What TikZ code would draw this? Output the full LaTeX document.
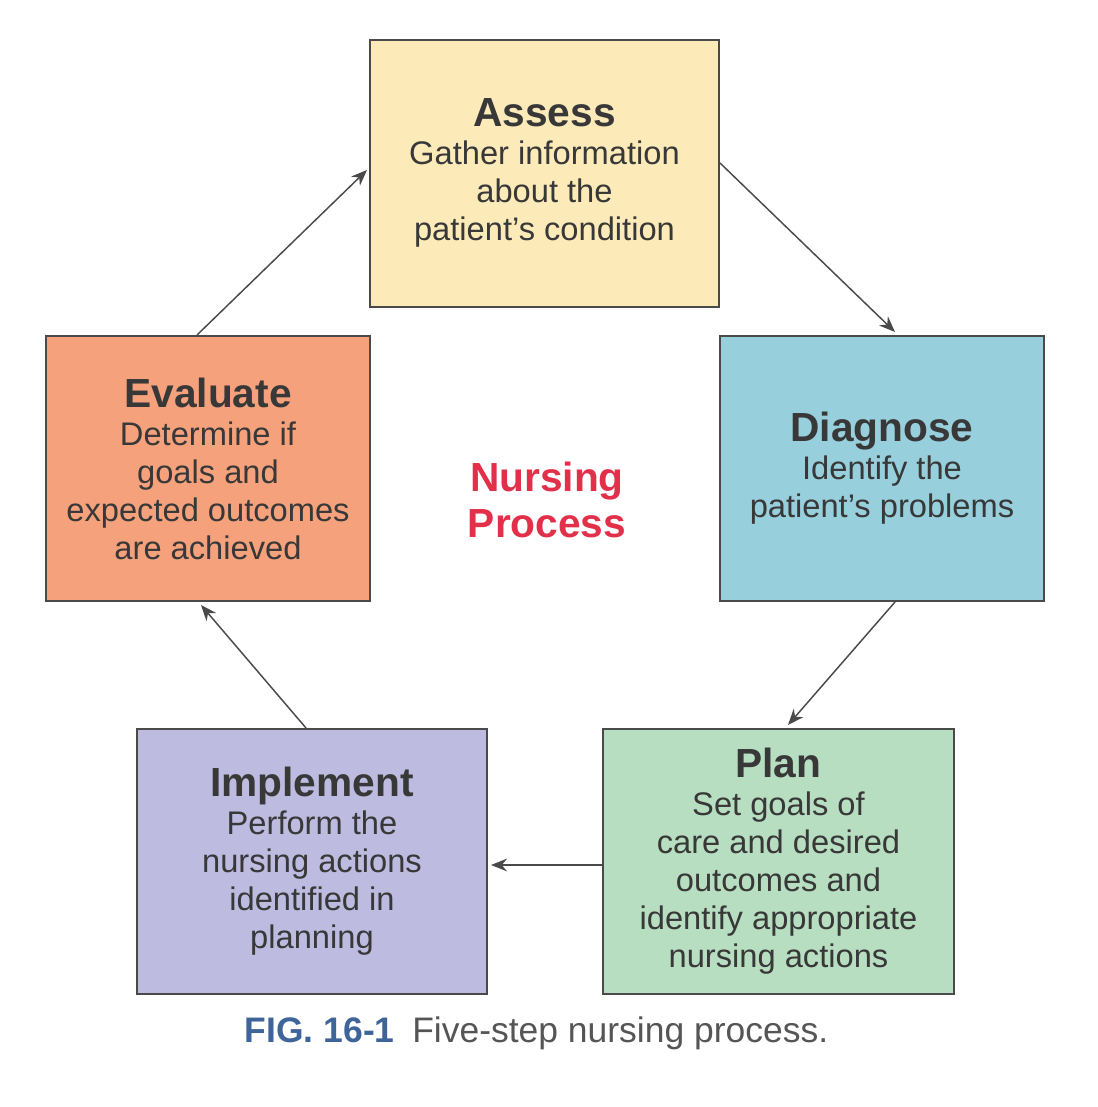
\documentclass[tikz,border=0pt]{standalone}
\usepackage{fontspec}
\setmainfont{Liberation Sans}
\usepackage{tikz}
\usetikzlibrary{arrows.meta,calc}

\definecolor{assessfill}{HTML}{FCEBB9}
\definecolor{diagnosefill}{HTML}{97CFDD}
\definecolor{planfill}{HTML}{B8DEC1}
\definecolor{implementfill}{HTML}{BDBBDF}
\definecolor{evaluatefill}{HTML}{F5A17C}
\definecolor{boxtext}{HTML}{383838}
\definecolor{edge}{HTML}{4A4A4A}
\definecolor{nursered}{HTML}{E2304A}
\definecolor{figblue}{HTML}{3E6499}
\definecolor{capgray}{HTML}{555555}

\tikzset{
  stepbox/.style={draw=edge, line width=1.5pt, text=boxtext, align=center,
    inner sep=0pt, font=\fontsize{24.5}{28.5}\selectfont},
  cyc/.style={draw=edge, line width=1.1pt, -{Stealth[length=12pt,width=9.5pt]}},
}
\newcommand{\steptitle}[1]{{\fontsize{30.5}{28.5}\selectfont\bfseries #1}}

\begin{document}
\begin{tikzpicture}[x=0.75pt,y=0.75pt,yscale=-1,xscale=1]
%set diagram left start at 0, and has height of 1107
\path (0,0) rectangle (1097,1107);

%Shape: Rectangle [assess]
\node[stepbox, fill=assessfill, minimum width=261.75pt, minimum height=200.25pt] (assess) at (544.5,173)
  {\steptitle{Assess}\\Gather information\\about the\\patient's condition};
%Shape: Rectangle [diagnose]
\node[stepbox, fill=diagnosefill, minimum width=243pt, minimum height=198.75pt] (diagnose) at (882,468.5)
  {\steptitle{Diagnose}\\Identify the\\patient's problems};
%Shape: Rectangle [plan]
\node[stepbox, fill=planfill, minimum width=263.25pt, minimum height=198.75pt] (plan) at (778.5,861.5)
  {\steptitle{Plan}\\Set goals of\\care and desired\\outcomes and\\identify appropriate\\nursing actions};
%Shape: Rectangle [implement]
\node[stepbox, fill=implementfill, minimum width=262.5pt, minimum height=198.75pt] (implement) at (312,861.5)
  {\steptitle{Implement}\\Perform the\\nursing actions\\identified in\\planning};
%Shape: Rectangle [evaluate]
\node[stepbox, fill=evaluatefill, minimum width=243pt, minimum height=198.75pt] (evaluate) at (208,468.5)
  {\steptitle{Evaluate}\\Determine if\\goals and\\expected outcomes\\are achieved};

% Text Node
\node[text=nursered, align=center, font=\fontsize{30.5}{35}\selectfont\bfseries] (centre) at (547,500)
  {Nursing\\Process};

%Straight Lines [cycle]
\draw[cyc] ($(assess.east)+(0,-10)$) -- ($(diagnose.north)+(13,-3)$);
\draw[cyc] ($(diagnose.south)+(13,0)$) -- ($(plan.north)+(9.5,-3)$);
\draw[cyc] ($(plan.west)+(0,3.5)$) -- ($(implement.east)+(3,3.5)$);
\draw[cyc] ($(implement.north)+(-6,0)$) -- ($(evaluate.south)+(-7,3)$);
\draw[cyc] ($(evaluate.north)+(-11,0)$) -- ($(assess.west)+(-2,-3)$);

% Text Node
\node[anchor=base, font=\fontsize{26.6}{30}\selectfont] (caption) at (536.5,1042)
  {{\color{figblue}\bfseries FIG. 16-1}\enspace{\color{capgray}Five-step nursing process.}};

\end{tikzpicture}
\end{document}
